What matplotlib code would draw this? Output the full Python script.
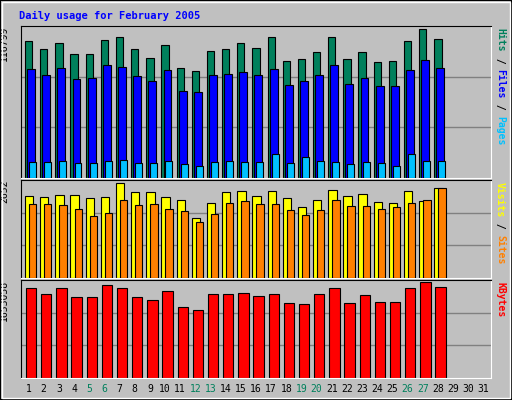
import matplotlib
matplotlib.use("Agg")
import matplotlib.pyplot as plt
from matplotlib.patches import Rectangle

days = list(range(1, 32))
hits = [107550,100944,105700,96980,96980,108078,110456,100944,93809,104115,85881,83503,99358,100944,
        105700,101736,110456,91431,93017,98565,110456,93017,98565,90638,91431,107550,116799,108871]
files = [85089,80332,85881,77161,77954,88260,86674,79539,75576,84296,68441,67648,80332,81125,
         82710,80332,85089,72405,75576,80332,88260,73197,77954,71612,71612,84296,92223,85881]
pages = [12156,12156,12948,11363,11363,12948,13741,11363,11363,12948,10570,9777,12156,12948,
         12156,12156,18498,11363,16119,12948,12156,10570,12156,11363,9777,18498,12948,12948]
visits = [2215,2187,2243,2243,2159,2187,2578,2326,2326,2187,2103,1628,2019,2326,2354,2215,2354,2159,
          1908,2103,2382,2215,2270,2047,2019,2354,2075,2438]
sites = [1991,1991,1963,1880,1684,1768,2103,1963,1991,1880,1824,1517,1740,2019,2075,1991,1991,1852,
         1712,1852,2103,1935,1935,1880,1908,2019,2103,2438]
kbytes = [1510875,1422000,1510875,1368675,1368675,1564200,1510875,1368675,1315350,1475325,1190925,
          1155375,1422000,1422000,1439775,1386450,1422000,1262025,1244250,1422000,1510875,1262025,
          1404225,1279800,1279800,1510875,1617525,1528650]
weekend = [5, 6, 12, 13, 19, 20, 26, 27]
top_labels = ["116799", "2652", "1653058"]
top_vals = [118900, 2652, 1653058]

W, H = 512, 400
BG = "#c0c0c0"
fig = plt.figure(figsize=(W/100, H/100), dpi=100, facecolor=BG)
mono = "DejaVu Sans Mono"

# outer 3D border
fig.patches.append(Rectangle((0, 0), 1, 1, transform=fig.transFigure, fill=False, ec="black", lw=1.5))
fig.patches.append(Rectangle((2/W, 2/H), 1-4/W, 1-4/H, transform=fig.transFigure, fill=False, ec="white", lw=1))

fig.text(19/W, 1-16/H, "Daily usage for February 2005", color="#0000ff", fontsize=7.5,
         fontweight="bold", family=mono, va="center")

def panel(y0, y1):
    ax = fig.add_axes([21/W, 1-y1/H, 470/W, (y1-y0)/H])
    ax.set_facecolor(BG)
    ax.set_xlim(0.5, 31.5)
    for s in ["left", "top"]:
        ax.spines[s].set_color("black")
    for s in ["right", "bottom"]:
        ax.spines[s].set_color("white")
    ax.set_xticks([]); ax.set_yticks([])
    return ax

def bars(ax, vals, off, w, color, z):
    x = [d + off + w/2 for d in days[:len(vals)]]
    ax.bar(x, vals, width=w, color=color, edgecolor="black", linewidth=0.8, zorder=z)

ax1 = panel(26, 178)
ax1.set_ylim(0, top_vals[0])
for g in (1/3, 2/3):
    ax1.axhline(top_vals[0]*g, color="#808080", lw=1, zorder=0)
bars(ax1, hits, -0.24, 0.48, "#00805c", 2)
bars(ax1, files, -0.10, 0.52, "#0000ff", 3)
bars(ax1, pages, 0.03, 0.46, "#00c0ff", 4)

ax2 = panel(180, 278)
ax2.set_ylim(0, top_vals[1]*1.0)
for g in (1/3, 2/3):
    ax2.axhline(top_vals[1]*g, color="#808080", lw=1, zorder=0)
bars(ax2, visits, -0.24, 0.55, "#ffff00", 2)
bars(ax2, sites, 0.03, 0.48, "#ff8000", 3)

ax3 = panel(280, 378)
ax3.set_ylim(0, top_vals[2])
for g in (1/3, 2/3):
    ax3.axhline(top_vals[2]*g, color="#808080", lw=1, zorder=0)
bars(ax3, kbytes, -0.17, 0.68, "#ff0000", 2)

# left max labels
for ax, lab in zip((ax1, ax2, ax3), top_labels):
    ax.text(-0.025, 1.0, lab, transform=ax.transAxes, rotation=90, ha="right", va="top",
            fontsize=7, family=mono, color="black")

# right side labels
def rlabel(ax, parts):
    y = 1.0
    for txt, col in parts:
        pass
    t = None
    # build from top down
    fig.canvas.draw()
    ypix = ax.get_window_extent().y1 - 2
    for txt, col in parts:
        t = fig.text(500/W, ypix/H, txt, rotation=270, ha="center", va="top", color=col,
                     fontsize=7, family=mono, fontweight="bold")
        bb = t.get_window_extent(renderer=fig.canvas.get_renderer())
        ypix -= bb.height

rlabel(ax1, [("Hits", "#00805c"), (" / ", "black"), ("Files", "#0000ff"), (" / ", "black"), ("Pages", "#00c0ff")])
rlabel(ax2, [("Visits", "#ffff00"), (" / ", "black"), ("Sites", "#ff8000")])
rlabel(ax3, [("KBytes", "#ff0000")])

# day labels
for d in days:
    col = "#00805c" if d in weekend else "black"
    fig.text((21 + (d - 0.5) * 470/31)/W, 1-389/H, str(d), ha="center", va="center",
             fontsize=7, family=mono, color=col)

fig.savefig("out.png", dpi=100, facecolor=BG)
